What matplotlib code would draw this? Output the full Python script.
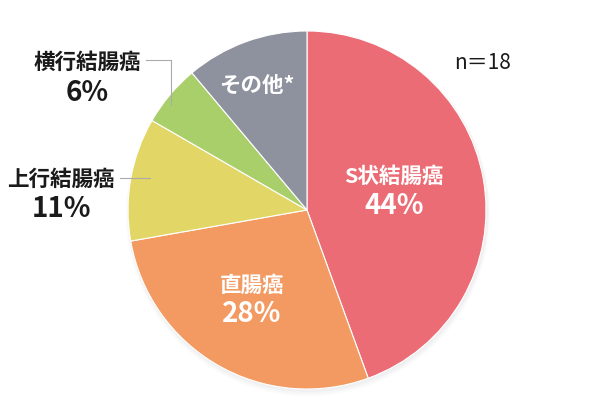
import matplotlib
matplotlib.use('Agg')
import matplotlib.pyplot as plt
from matplotlib.patches import Circle

plt.rcParams['font.family'] = ['Noto Sans CJK JP', 'DejaVu Sans']

# データ (n=18)
labels = ['S状結腸癌', '直腸癌', '上行結腸癌', '横行結腸癌', 'その他*']
counts = [8, 5, 2, 1, 2]
pcts = ['44%', '28%', '11%', '6%', '']
colors = ['#EC6C75', '#F29A62', '#E2D766', '#A9CF6A', '#8E929E']

W, H = 598, 418
fig = plt.figure(figsize=(W / 100, H / 100), dpi=100)
ax = fig.add_axes([0, 0, 1, 1])

cx, cy, r = 307, H - 210, 179

# 影
for i, a in enumerate([0.06, 0.05, 0.04]):
    ax.add_patch(Circle((cx + 1, cy - 2 - i), r + 1 + i, color='#9aa3ab', alpha=a, lw=0, zorder=0))

ax.pie(counts, colors=colors, startangle=90, counterclock=False,
       center=(cx, cy), radius=r, frame=True,
       wedgeprops=dict(edgecolor='white', linewidth=0.8))
ax.set_xlim(0, W)
ax.set_ylim(0, H)
ax.set_aspect('equal')
ax.axis('off')

def y(v):
    return H - v

LBL = 15.5
PCT = 20

# 内側のラベル（白）
ax.text(394, y(176), labels[0], color='white', fontsize=LBL, fontweight='bold', ha='center', va='center')
ax.text(394, y(206), pcts[0], color='white', fontsize=PCT, fontweight='bold', ha='center', va='center')
ax.text(252, y(285), labels[1], color='white', fontsize=LBL, fontweight='bold', ha='center', va='center')
ax.text(252, y(314), pcts[1], color='white', fontsize=PCT, fontweight='bold', ha='center', va='center')
ax.text(257, y(85), labels[4], color='white', fontsize=LBL, fontweight='bold', ha='center', va='center')

# 外側のラベル（黒）
ax.text(61, y(179), labels[2], color='#1a1a1a', fontsize=LBL, fontweight='bold', ha='center', va='center')
ax.text(61, y(209), pcts[2], color='#1a1a1a', fontsize=PCT, fontweight='bold', ha='center', va='center')
ax.text(87, y(62), labels[3], color='#1a1a1a', fontsize=LBL, fontweight='bold', ha='center', va='center')
ax.text(87, y(93), pcts[3], color='#1a1a1a', fontsize=PCT, fontweight='bold', ha='center', va='center')

# 引き出し線
ax.plot([120, 150], [y(178), y(178)], color='#aaaaaa', lw=0.8)
ax.plot([146, 171, 171], [y(60), y(60), y(105)], color='#aaaaaa', lw=0.8)

ax.text(483, y(63), 'n＝18', color='#1a1a1a', fontsize=15, ha='center', va='center')

fig.savefig('out.png', dpi=100)
